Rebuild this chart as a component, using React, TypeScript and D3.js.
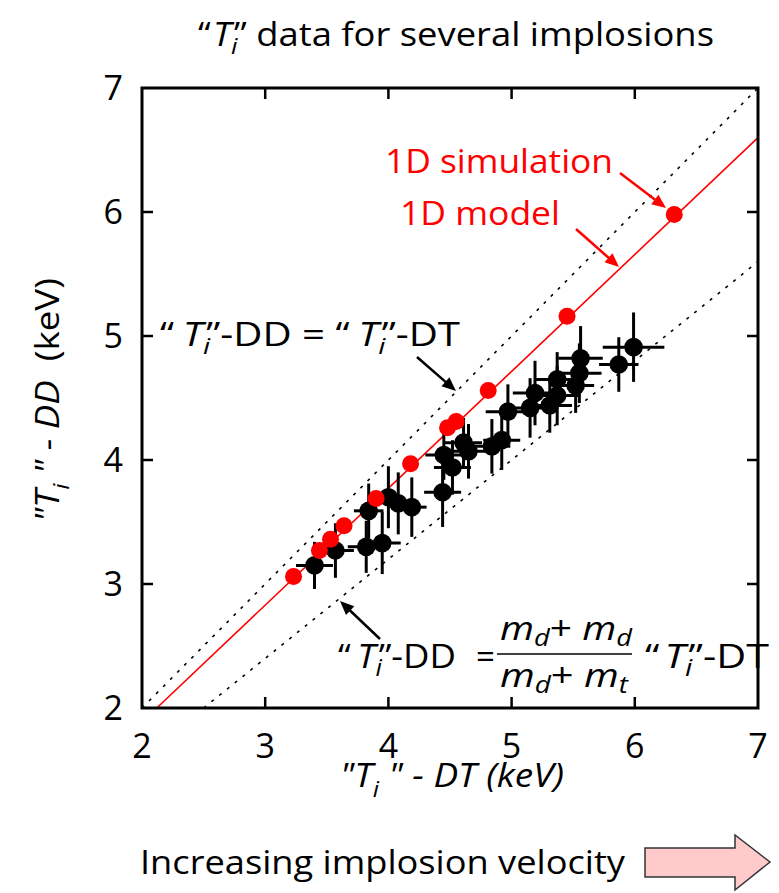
import React from "react";
import * as d3 from "d3";

// ---- data ----
const xTicks = [2, 3, 4, 5, 6, 7];
const yTicks = [2, 3, 4, 5, 6, 7];

// measured "Ti"-DT (x) vs "Ti"-DD (y) with error bars
const dataX = [3.40, 3.57, 3.82, 3.95, 3.84, 4.00, 4.08, 4.19, 4.44, 4.45, 4.52, 4.61, 4.65, 4.84, 4.92, 4.97, 5.15, 5.19, 5.31, 5.37, 5.37, 5.52, 5.55, 5.56, 5.87, 5.99];
const dataY = [3.15, 3.27, 3.30, 3.33, 3.59, 3.70, 3.65, 3.62, 3.74, 4.04, 3.94, 4.14, 4.07, 4.11, 4.16, 4.39, 4.42, 4.54, 4.44, 4.52, 4.65, 4.60, 4.70, 4.82, 4.77, 4.91];
const dataXErr = [0.15, 0.15, 0.15, 0.15, 0.12, 0.12, 0.12, 0.12, 0.15, 0.15, 0.15, 0.15, 0.15, 0.15, 0.15, 0.18, 0.18, 0.18, 0.18, 0.18, 0.18, 0.15, 0.18, 0.18, 0.16, 0.25];
const dataYErr = [0.19, 0.22, 0.21, 0.25, 0.22, 0.25, 0.25, 0.24, 0.28, 0.20, 0.22, 0.20, 0.22, 0.22, 0.24, 0.22, 0.24, 0.26, 0.22, 0.24, 0.22, 0.22, 0.24, 0.26, 0.22, 0.28];

// 1D simulation points
const simX = [3.23, 3.44, 3.53, 3.64, 3.90, 4.18, 4.48, 4.55, 4.81, 5.45, 6.32];
const simY = [3.06, 3.27, 3.36, 3.47, 3.69, 3.97, 4.26, 4.31, 4.56, 5.16, 5.98];

// 1D model line
const modelX = [2.12, 7];
const modelY = [2, 6.6];

// reference lines
const equalX = [2, 7];
const equalY = [2, 7];
const massRatio = (2 + 2) / (2 + 3); // (md+md)/(md+mt)
const ratioX = [2 / massRatio, 7];
const ratioY = [2, 7 * massRatio];

const FONT = "'Open Sans', Lato, sans-serif";

export default function App() {
  const x = d3.scaleLinear().domain([2, 7]).range([142, 758]);
  const y = d3.scaleLinear().domain([2, 7]).range([708, 88]);
  const line = d3.line<[number, number]>().x((d) => x(d[0])).y((d) => y(d[1]));

  const zip = (a: number[], b: number[]) => a.map((v, i) => [v, b[i]] as [number, number]);

  const tickLen = 11;

  const arrowHead = (x1: number, y1: number, x2: number, y2: number, color: string, sw: number) => {
    const ang = Math.atan2(y2 - y1, x2 - x1);
    const L = 14, W = 6;
    const bx = x2 - L * Math.cos(ang), by = y2 - L * Math.sin(ang);
    const p1 = [bx + W * Math.sin(ang), by - W * Math.cos(ang)];
    const p2 = [bx - W * Math.sin(ang), by + W * Math.cos(ang)];
    return (
      <g>
        <line x1={x1} y1={y1} x2={bx + 2 * Math.cos(ang)} y2={by + 2 * Math.sin(ang)} stroke={color} strokeWidth={sw} />
        <polygon points={`${x2},${y2} ${p1[0]},${p1[1]} ${p2[0]},${p2[1]}`} fill={color} />
      </g>
    );
  };

  // "Ti" with curly quotes
  const QuotedTi = (fs: number, gap = 2) => (
    <>
      <tspan>“</tspan>
      <tspan fontStyle="italic" dx={gap}>T</tspan>
      <tspan fontStyle="italic" fontSize={fs * 0.7} dy={fs * 0.25}>i</tspan>
      <tspan dy={-fs * 0.25} dx={-3}>”</tspan>
    </>
  );

  return (
    <div style={{ position: "absolute", left: 0, top: 0 }}>
      <svg width={779} height={893} style={{ display: "block", background: "#fff" }} fontFamily={FONT}>
        <rect x={0} y={0} width={779} height={893} fill="#fff" />

        {/* title */}
        <text x={456} y={46} fontSize={32} textAnchor="middle" fill="#000" textLength={516} lengthAdjust="spacingAndGlyphs">
          {QuotedTi(32)}
          <tspan> data for several implosions</tspan>
        </text>

        {/* reference lines */}
        <path d={line(zip(equalX, equalY)) || ""} stroke="#000" strokeWidth={1.6} strokeDasharray="3 7" fill="none" />
        <path d={line(zip(ratioX, ratioY)) || ""} stroke="#000" strokeWidth={1.6} strokeDasharray="3 7" fill="none" />
        <path d={line(zip(modelX, modelY)) || ""} stroke="#ff0000" strokeWidth={1.6} fill="none" />

        {/* error bars */}
        {dataX.map((dx, i) => (
          <g key={"e" + i} stroke="#000" strokeWidth={3}>
            <line x1={x(dx - dataXErr[i])} x2={x(dx + dataXErr[i])} y1={y(dataY[i])} y2={y(dataY[i])} />
            <line x1={x(dx)} x2={x(dx)} y1={y(dataY[i] - dataYErr[i])} y2={y(dataY[i] + dataYErr[i])} />
          </g>
        ))}
        {dataX.map((dx, i) => (
          <circle key={"d" + i} cx={x(dx)} cy={y(dataY[i])} r={9.3} fill="#000" />
        ))}
        {simX.map((sx, i) => (
          <circle key={"s" + i} cx={x(sx)} cy={y(simY[i])} r={8.5} fill="#ff0000" />
        ))}

        {/* frame */}
        <rect x={x(2)} y={y(7)} width={x(7) - x(2)} height={y(2) - y(7)} fill="none" stroke="#000" strokeWidth={3} />
        {xTicks.slice(1, -1).map((t) => (
          <g key={"xt" + t} stroke="#000" strokeWidth={2.5}>
            <line x1={x(t)} x2={x(t)} y1={y(2)} y2={y(2) - tickLen} />
            <line x1={x(t)} x2={x(t)} y1={y(7)} y2={y(7) + tickLen} />
          </g>
        ))}
        {yTicks.slice(1, -1).map((t) => (
          <g key={"yt" + t} stroke="#000" strokeWidth={2.5}>
            <line x1={x(2)} x2={x(2) + tickLen} y1={y(t)} y2={y(t)} />
            <line x1={x(7)} x2={x(7) - tickLen} y1={y(t)} y2={y(t)} />
          </g>
        ))}
        {xTicks.map((t) => (
          <text key={"xl" + t} x={x(t)} y={758} fontSize={34} textAnchor="middle" fill="#000">{t}</text>
        ))}
        {yTicks.map((t) => (
          <text key={"yl" + t} x={123} y={y(t) + 12} fontSize={34} textAnchor="end" fill="#000">{t}</text>
        ))}

        {/* axis labels */}
        <text x={452} y={787} fontSize={33} textAnchor="middle" fontStyle="italic" fill="#000" textLength={224} lengthAdjust="spacingAndGlyphs">
          <tspan>"T</tspan>
          <tspan fontSize={22} dy={10}>i</tspan>
          <tspan dy={-10}>{"\u00a0\" - DT (keV)"}</tspan>
        </text>
        <text transform="translate(59,400) rotate(-90)" fontSize={33} textAnchor="middle" fill="#000" textLength={244} lengthAdjust="spacingAndGlyphs">
          <tspan fontStyle="italic">"T</tspan>
          <tspan fontStyle="italic" fontSize={22} dy={10}>i</tspan>
          <tspan fontStyle="italic" dy={-10}>{"\u00a0\" - DD"}</tspan>
          <tspan>{"\u00a0 (keV)"}</tspan>
        </text>

        {/* annotations */}
        <text x={385} y={173} fontSize={33} fill="#ff0000" textLength={228} lengthAdjust="spacingAndGlyphs">1D simulation</text>
        {arrowHead(620, 173, 666, 208, "#ff0000", 2.5)}
        <text x={400} y={225} fontSize={33} fill="#ff0000" textLength={160} lengthAdjust="spacingAndGlyphs">1D model</text>
        {arrowHead(576, 229, 619, 267, "#ff0000", 2.5)}

        <text x={160} y={346} fontSize={32} fill="#000" textLength={300} lengthAdjust="spacingAndGlyphs">
          {QuotedTi(32, 7)}
          <tspan>-DD = </tspan>
          {QuotedTi(32, 7)}
          <tspan>-DT</tspan>
        </text>
        {arrowHead(417, 357, 456, 391, "#000", 2.5)}

        {arrowHead(380, 639, 340, 601, "#000", 2.5)}
        <text x={338} y={668} fontSize={33} fill="#000" textLength={118} lengthAdjust="spacingAndGlyphs">
          {QuotedTi(33, 6)}
          <tspan>-DD</tspan>
        </text>
        <text x={476} y={668} fontSize={33} fill="#000">=</text>
        <text x={500} y={640} fontSize={33} fill="#000" fontStyle="italic" textLength={132} lengthAdjust="spacingAndGlyphs">
          <tspan>m</tspan><tspan fontSize={23} dy={6}>d</tspan>
          <tspan dy={-6} fontStyle="normal">+ </tspan><tspan>m</tspan><tspan fontSize={23} dy={6}>d</tspan>
        </text>
        <line x1={497} x2={632} y1={654} y2={654} stroke="#000" strokeWidth={1.5} />
        <text x={500} y={687} fontSize={33} fill="#000" fontStyle="italic" textLength={128} lengthAdjust="spacingAndGlyphs">
          <tspan>m</tspan><tspan fontSize={23} dy={6}>d</tspan>
          <tspan dy={-6} fontStyle="normal">+ </tspan><tspan>m</tspan><tspan fontSize={23} dy={6}>t</tspan>
        </text>
        <text x={645} y={668} fontSize={33} fill="#000" textLength={124} lengthAdjust="spacingAndGlyphs">
          {QuotedTi(33, 4)}
          <tspan>-DT</tspan>
        </text>

        {/* bottom */}
        <text x={140} y={874} fontSize={33} fill="#000" textLength={485} lengthAdjust="spacingAndGlyphs">Increasing implosion velocity</text>
        <polygon points="645,848 735,848 735,835 770,862 735,890 735,877 645,877" fill="#ffcaca" stroke="#333" strokeWidth={1.5} />
      </svg>
    </div>
  );
}
